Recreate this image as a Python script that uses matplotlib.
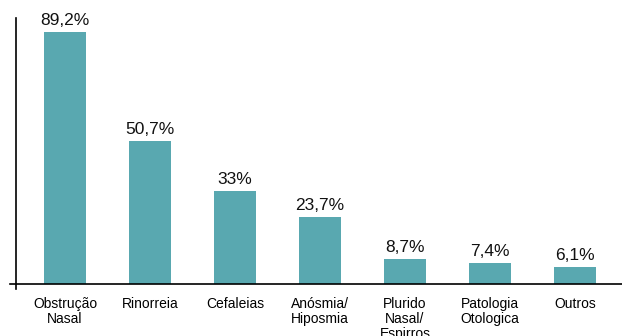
import matplotlib.pyplot as plt

plt.rcParams['font.family'] = ['Liberation Sans', 'DejaVu Sans']

# Data
categories = ["Obstrução\nNasal", "Rinorreia", "Cefaleias", "Anósmia/\nHiposmia",
              "Plurido\nNasal/\nEspirros", "Patologia\nOtologica", "Outros"]
values = [89.2, 50.7, 33, 23.7, 8.7, 7.4, 6.1]
labels = ["89,2%", "50,7%", "33%", "23,7%", "8,7%", "7,4%", "6,1%"]

fig = plt.figure(figsize=(6.22, 3.36), dpi=100)
ax = fig.add_axes([10 / 622, 47 / 336, 612 / 622, 271 / 336])

x = range(len(values))
bars = ax.bar(x, values, width=0.5, color="#59A8B0")

for b, lab in zip(bars, labels):
    ax.annotate(lab, (b.get_x() + b.get_width() / 2, b.get_height()),
                xytext=(0, 3), textcoords="offset points",
                ha="center", va="bottom", fontsize=12.5, color="#111111")

ax.set_xlim(-0.647, 6.553)
ax.set_ylim(-1.77, 94.2)

ax.spines['top'].set_visible(False)
ax.spines['right'].set_visible(False)
ax.spines['left'].set_position(('data', -0.576))
ax.spines['bottom'].set_position(('data', 0))
ax.spines['left'].set_linewidth(1.2)
ax.spines['bottom'].set_linewidth(1.2)

ax.set_yticks([])
ax.set_xticks(list(x))
ax.set_xticklabels(categories, fontsize=10, linespacing=1.1)
ax.tick_params(axis='x', length=0, pad=9)

fig.savefig("out.png", dpi=100)
